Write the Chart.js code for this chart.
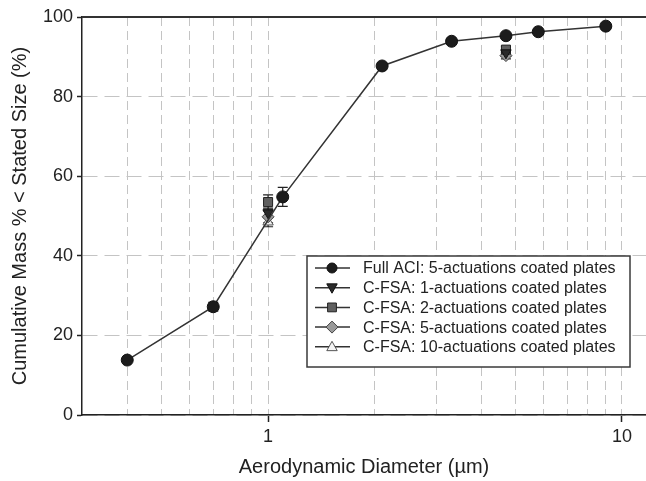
<!DOCTYPE html>
<html><head><meta charset="utf-8">
<script src="https://cdn.jsdelivr.net/npm/chart.js@4.4.1/dist/chart.umd.min.js"></script>
<style>html,body{margin:0;padding:0;background:#fff;}#wrap{width:646px;height:481px;position:relative;}</style>
</head><body><div id="wrap"><canvas id="c" width="646" height="481"></canvas></div>
<script>
// ---- data ----
const aciSizes = [0.4, 0.7, 1.1, 2.1, 3.3, 4.7, 5.8, 9.0];
const aciValues = [13.8, 27.2, 54.8, 87.7, 93.9, 95.3, 96.3, 97.7];
const aciErrors = [0.5, 1.1, 2.4, 0.8, 0.5, 0.5, 0.4, 0.3];
const fsaSizes = [1.0, 4.7];
const fsa1Values = [50.8, 91.0];
const fsa1Errors = [1.2, 0.7];
const fsa2Values = [53.5, 91.8];
const fsa2Errors = [1.8, 0.8];
const fsa5Values = [49.8, 90.3];
const fsa5Errors = [1.5, 0.8];
const fsa10Values = [48.5, 90.8];
const fsa10Errors = [1.2, 0.7];
const seriesLabels = [
  'Full ACI: 5-actuations coated plates',
  'C-FSA: 1-actuations coated plates',
  'C-FSA: 2-actuations coated plates',
  'C-FSA: 5-actuations coated plates',
  'C-FSA: 10-actuations coated plates'
];
const xGridValues = [0.4, 0.5, 0.6, 0.7, 0.8, 0.9, 1, 2, 3, 4, 5, 6, 7, 8, 9, 10];
const xTickLabels = [1, 10];
const yTickValues = [0, 20, 40, 60, 80, 100];
const xTitle = 'Aerodynamic Diameter (\u00b5m)';
const yTitle = 'Cumulative Mass % < Stated Size (%)';

const FONT = "'Liberation Sans', Arial, Helvetica, sans-serif";
const toPts = (xs, ys) => xs.map((x, i) => ({x: x, y: ys[i]}));

const datasets = [
  {label: seriesLabels[0], data: toPts(aciSizes, aciValues), errors: aciErrors,
   showLine: true, borderColor: '#333', borderWidth: 1.5, pointStyle: 'circle', pointRadius: 6,
   pointBackgroundColor: '#1c1c1c', pointBorderColor: '#111', pointBorderWidth: 1, mk: {style:'circle', r:5, fill:'#1c1c1c', stroke:'#111', rot:0}},
  {label: seriesLabels[1], data: toPts(fsaSizes, fsa1Values), errors: fsa1Errors,
   showLine: false, pointStyle: 'triangle', rotation: 180, pointRadius: 6,
   pointBackgroundColor: '#2a2a2a', pointBorderColor: '#111', pointBorderWidth: 1, mk: {style:'triangle', r:5.5, fill:'#2a2a2a', stroke:'#111', rot:180}},
  {label: seriesLabels[2], data: toPts(fsaSizes, fsa2Values), errors: fsa2Errors,
   showLine: false, pointStyle: 'rect', pointRadius: 6.4,
   pointBackgroundColor: '#606060', pointBorderColor: '#222', pointBorderWidth: 1, mk: {style:'rect', r:5.5, fill:'#606060', stroke:'#222', rot:0}},
  {label: seriesLabels[3], data: toPts(fsaSizes, fsa5Values), errors: fsa5Errors,
   showLine: false, pointStyle: 'rectRot', pointRadius: 6,
   pointBackgroundColor: '#9a9a9a', pointBorderColor: '#444', pointBorderWidth: 1, mk: {style:'rectRot', r:6, fill:'#9a9a9a', stroke:'#444', rot:0}},
  {label: seriesLabels[4], data: toPts(fsaSizes, fsa10Values), errors: fsa10Errors,
   showLine: false, pointStyle: 'triangle', pointRadius: 6,
   pointBackgroundColor: '#eeeeee', pointBorderColor: '#555', pointBorderWidth: 1, mk: {style:'triangle', r:5.5, fill:'#f4f4f4', stroke:'#555', rot:0}}
];

function drawMarker(ctx, m, x, y) {
  ctx.save();
  ctx.translate(x, y);
  ctx.rotate(m.rot * Math.PI / 180);
  ctx.beginPath();
  const r = m.r;
  if (m.style === 'circle') {
    ctx.arc(0, 0, r, 0, Math.PI * 2);
  } else if (m.style === 'triangle') {
    ctx.moveTo(0, -r);
    ctx.lineTo(r * 0.95, r * 0.7);
    ctx.lineTo(-r * 0.95, r * 0.7);
    ctx.closePath();
  } else if (m.style === 'rect') {
    const s = r * 0.8;
    ctx.rect(-s, -s, 2 * s, 2 * s);
  } else if (m.style === 'rectRot') {
    ctx.moveTo(0, -r); ctx.lineTo(r, 0); ctx.lineTo(0, r); ctx.lineTo(-r, 0); ctx.closePath();
  }
  ctx.fillStyle = m.fill; ctx.fill();
  ctx.lineWidth = 1; ctx.strokeStyle = m.stroke; ctx.stroke();
  ctx.restore();
}

const errorBars = {
  id: 'errorBars',
  beforeDatasetsDraw(chart) {
    const ctx = chart.ctx, xs = chart.scales.x, ys = chart.scales.y;
    ctx.save();
    ctx.strokeStyle = '#222'; ctx.lineWidth = 1.2;
    chart.data.datasets.forEach(ds => {
      ds.data.forEach((p, i) => {
        const e = ds.errors[i];
        const px = xs.getPixelForValue(p.x);
        const y1 = ys.getPixelForValue(p.y + e), y2 = ys.getPixelForValue(p.y - e);
        ctx.beginPath();
        ctx.moveTo(px, y1); ctx.lineTo(px, y2);
        ctx.moveTo(px - 5, y1); ctx.lineTo(px + 5, y1);
        ctx.moveTo(px - 5, y2); ctx.lineTo(px + 5, y2);
        ctx.stroke();
      });
    });
    ctx.restore();
  }
};

const frameAndLegend = {
  id: 'frameAndLegend',
  afterDraw(chart) {
    const ctx = chart.ctx, a = chart.chartArea;
    ctx.save();
    // top frame line
    ctx.strokeStyle = '#333'; ctx.lineWidth = 2;
    ctx.beginPath(); ctx.moveTo(a.left, a.top); ctx.lineTo(a.right, a.top); ctx.stroke();
    // legend
    const lx = 307, ly = 256, lw = 323, lh = 111, rowH = 19.7, firstRow = 268;
    ctx.fillStyle = '#fff'; ctx.fillRect(lx, ly, lw, lh);
    ctx.strokeStyle = '#3a3a3a'; ctx.lineWidth = 1.5; ctx.strokeRect(lx, ly, lw, lh);
    ctx.font = '16px ' + FONT; ctx.textBaseline = 'middle'; ctx.textAlign = 'left';
    chart.data.datasets.forEach((ds, i) => {
      const y = firstRow + i * rowH;
      ctx.strokeStyle = '#333'; ctx.lineWidth = 1.5;
      ctx.beginPath(); ctx.moveTo(315, y); ctx.lineTo(350, y); ctx.stroke();
      drawMarker(ctx, ds.mk, 332, y);
      ctx.fillStyle = '#222';
      ctx.fillText(ds.label, 363, y + 1);
    });
    ctx.restore();
  }
};

new Chart(document.getElementById('c'), {
  type: 'line',
  data: {datasets: datasets},
  plugins: [errorBars, frameAndLegend],
  options: {
    responsive: false, animation: false, devicePixelRatio: 1,
    layout: {autoPadding: false, padding: {top: 17, left: 0, right: 0, bottom: 0}},
    plugins: {legend: {display: false}, tooltip: {enabled: false}},
    scales: {
      x: {
        type: 'logarithmic', min: 0.298, max: 11.69,
        afterBuildTicks: s => { s.ticks = xGridValues.map(v => ({value: v, major: xTickLabels.includes(v)})); },
        afterFit: s => { s.height = 66; s.paddingRight = 0; s.paddingLeft = 0; },
        ticks: {autoSkip: false, maxRotation: 0, padding: 4, color: '#222',
          font: {family: FONT, size: 18},
          callback: v => xTickLabels.includes(v) ? String(v) : ''},
        grid: {color: '#c4c4c4', lineWidth: 1, tickLength: 7, tickWidth: 1.5,
          tickColor: c => (c.tick && xTickLabels.includes(c.tick.value)) ? '#222' : 'rgba(0,0,0,0)'},
        border: {color: '#222', width: 1.5, dash: [9, 5]},
        title: {display: true, text: xTitle, color: '#222', font: {family: FONT, size: 20}, padding: {top: 0, bottom: 2}}
      },
      y: {
        type: 'linear', min: 0, max: 100,
        afterBuildTicks: s => { s.ticks = yTickValues.map(v => ({value: v})); },
        afterFit: s => { s.width = 82; },
        ticks: {padding: 4, color: '#222', font: {family: FONT, size: 18}},
        grid: {color: '#c4c4c4', lineWidth: 1, tickLength: 5, tickWidth: 1.5, tickColor: '#222'},
        border: {color: '#222', width: 1.5, dash: [15, 7]},
        title: {display: true, text: yTitle, color: '#222', font: {family: FONT, size: 20}, padding: {top: 8, bottom: 0}}
      }
    }
  }
});
</script></body></html>
